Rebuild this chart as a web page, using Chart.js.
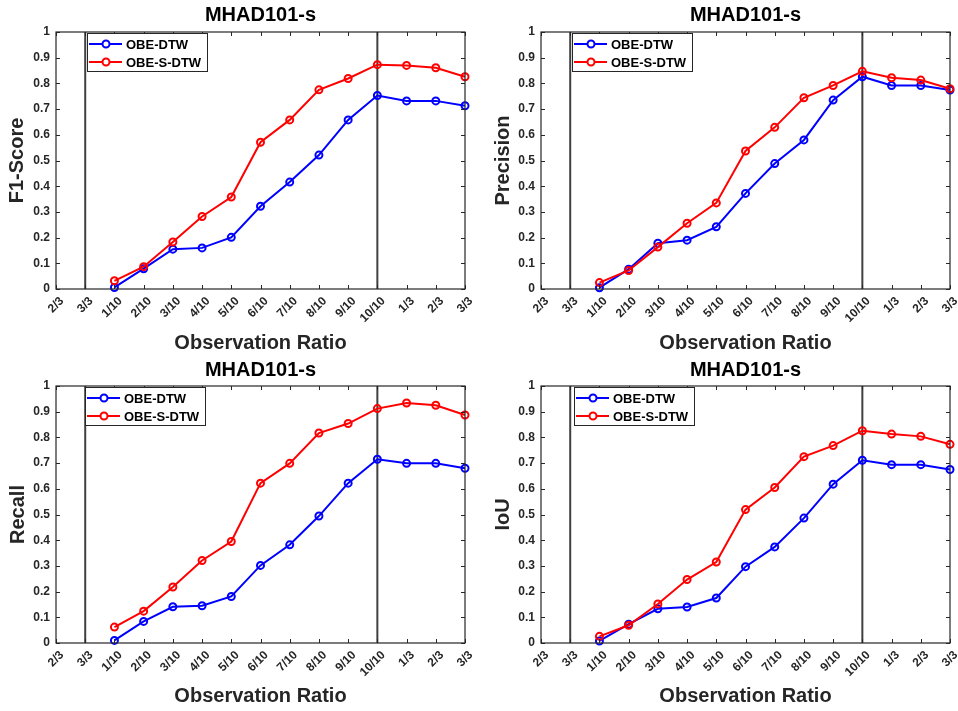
<!DOCTYPE html>
<html>
<head>
<meta charset="utf-8">
<script src="https://cdn.jsdelivr.net/npm/chart.js@4"></script>
<style>
  html, body { margin: 0; padding: 0; background: #ffffff; }
  #wrap { position: relative; width: 958px; height: 711px; background: #ffffff; }
  canvas { position: absolute; }
</style>
</head>
<body>
<div id="wrap">
  <canvas id="c1" width="479" height="355" style="left:0;top:0"></canvas>
  <canvas id="c2" width="479" height="355" style="left:479px;top:0"></canvas>
  <canvas id="c3" width="479" height="356" style="left:0;top:355px"></canvas>
  <canvas id="c4" width="479" height="356" style="left:479px;top:355px"></canvas>
</div>
<script>
// ---- data ----
const categories = ['2/3','3/3','1/10','2/10','3/10','4/10','5/10','6/10','7/10','8/10','9/10','10/10','1/3','2/3','3/3'];
const seriesNames = ['OBE-DTW', 'OBE-S-DTW'];
const chartTitle = 'MHAD101-s';
const xAxisTitle = 'Observation Ratio';
const metricNames = ['F1-Score', 'Precision', 'Recall', 'IoU'];
const refLineIndices = [1, 11]; // '3/3' and '10/10'
const yTicks = [0, 0.1, 0.2, 0.3, 0.4, 0.5, 0.6, 0.7, 0.8, 0.9, 1];

const f1Dtw    = [null, null, 0.006, 0.079, 0.155, 0.160, 0.201, 0.322, 0.416, 0.521, 0.658, 0.753, 0.732, 0.732, 0.713];
const f1SDtw   = [null, null, 0.032, 0.087, 0.183, 0.282, 0.358, 0.571, 0.658, 0.775, 0.819, 0.873, 0.870, 0.861, 0.826];
const precDtw  = [null, null, 0.005, 0.077, 0.178, 0.190, 0.242, 0.372, 0.488, 0.580, 0.735, 0.826, 0.792, 0.792, 0.774];
const precSDtw = [null, null, 0.025, 0.072, 0.163, 0.256, 0.335, 0.537, 0.629, 0.744, 0.792, 0.847, 0.822, 0.813, 0.779];
const recDtw   = [null, null, 0.010, 0.084, 0.141, 0.145, 0.181, 0.302, 0.382, 0.494, 0.622, 0.715, 0.699, 0.699, 0.680];
const recSDtw  = [null, null, 0.062, 0.124, 0.218, 0.321, 0.395, 0.622, 0.699, 0.817, 0.854, 0.912, 0.934, 0.925, 0.887];
const iouDtw   = [null, null, 0.008, 0.073, 0.133, 0.140, 0.175, 0.297, 0.374, 0.486, 0.618, 0.711, 0.694, 0.694, 0.675];
const iouSDtw  = [null, null, 0.026, 0.069, 0.152, 0.247, 0.315, 0.519, 0.605, 0.725, 0.768, 0.826, 0.813, 0.804, 0.773];

// ---- styling / layout ----
const FONT = "'Liberation Sans', Arial, Helvetica, sans-serif";
const AXIS_COLOR = '#262626';
const colors = ['#0000ff', '#ff0000'];

const panels = [
  { id: 'c1', metric: metricNames[0], dtw: f1Dtw,   sdtw: f1SDtw,   L: 56, R: 465, T: 32, B: 289, yTitleX: 17, xTitleY: 343, legendDX: 31 },
  { id: 'c2', metric: metricNames[1], dtw: precDtw, sdtw: precSDtw, L: 62, R: 471, T: 32, B: 289, yTitleX: 24, xTitleY: 343, legendDX: 31 },
  { id: 'c3', metric: metricNames[2], dtw: recDtw,  sdtw: recSDtw,  L: 56, R: 465, T: 31, B: 288, yTitleX: 18, xTitleY: 341, legendDX: 29 },
  { id: 'c4', metric: metricNames[3], dtw: iouDtw,  sdtw: iouSDtw,  L: 62, R: 471, T: 31, B: 288, yTitleX: 24, xTitleY: 341, legendDX: 33 }
];

const matlabPlugin = {
  id: 'matlabAxes',
  beforeDatasetsDraw(chart, args, opts) {
    const { ctx, chartArea: a } = chart;
    const x = chart.scales.x;
    ctx.save();
    ctx.strokeStyle = '#404040';
    ctx.lineWidth = 2;
    opts.refLines.forEach(i => {
      const px = x.getPixelForValue(i);
      ctx.beginPath();
      ctx.moveTo(px, a.top);
      ctx.lineTo(px, a.bottom);
      ctx.stroke();
    });
    ctx.restore();
  },
  afterDraw(chart, args, opts) {
    const { ctx, chartArea: a } = chart;
    const x = chart.scales.x, y = chart.scales.y;
    ctx.save();
    // box
    ctx.strokeStyle = AXIS_COLOR;
    ctx.lineWidth = 1.2;
    ctx.strokeRect(a.left, a.top, a.right - a.left, a.bottom - a.top);
    // inward ticks
    const tl = 4;
    ctx.lineWidth = 1;
    ctx.beginPath();
    x.ticks.forEach(t => {
      const px = Math.round(x.getPixelForValue(t.value)) + 0.5;
      ctx.moveTo(px, a.bottom); ctx.lineTo(px, a.bottom - tl);
      ctx.moveTo(px, a.top); ctx.lineTo(px, a.top + tl);
    });
    y.ticks.forEach(t => {
      const py = Math.round(y.getPixelForValue(t.value)) + 0.5;
      ctx.moveTo(a.left, py); ctx.lineTo(a.left + tl, py);
      ctx.moveTo(a.right, py); ctx.lineTo(a.right - tl, py);
    });
    ctx.stroke();

    // title
    ctx.fillStyle = '#000000';
    ctx.font = 'bold 20px ' + FONT;
    ctx.textAlign = 'center';
    ctx.textBaseline = 'middle';
    ctx.fillText(opts.title, (a.left + a.right) / 2, opts.titleY);

    // legend
    const bx = a.left + opts.legendDX, by = a.top + 1, bw = 120, bh = 38;
    ctx.fillStyle = '#ffffff';
    ctx.fillRect(bx, by, bw, bh);
    ctx.strokeStyle = AXIS_COLOR;
    ctx.lineWidth = 1;
    ctx.strokeRect(bx + 0.5, by + 0.5, bw, bh);
    ctx.font = 'bold 13px ' + FONT;
    ctx.textAlign = 'left';
    ctx.textBaseline = 'middle';
    chart.data.datasets.forEach((ds, i) => {
      const ry = by + 11 + i * 18;
      ctx.strokeStyle = ds.borderColor;
      ctx.lineWidth = 2;
      ctx.beginPath();
      ctx.moveTo(bx + 2, ry); ctx.lineTo(bx + 35, ry);
      ctx.stroke();
      ctx.beginPath();
      ctx.arc(bx + 19, ry, 3.5, 0, Math.PI * 2);
      ctx.fillStyle = '#ffffff';
      ctx.fill();
      ctx.stroke();
      ctx.fillStyle = '#000000';
      ctx.fillText(ds.label, bx + 39, ry + 1);
    });
    ctx.restore();
  }
};

panels.forEach(p => {
  const canvas = document.getElementById(p.id);
  const W = canvas.width, H = canvas.height;
  const padLeft = p.yTitleX - 12;
  const yWidth = p.L - padLeft;
  const xHeight = p.xTitleY - p.B + 12;
  const padBottom = H - p.B - xHeight;
  new Chart(canvas, {
    type: 'line',
    data: {
      labels: categories,
      datasets: [
        { label: seriesNames[0], data: p.dtw, borderColor: colors[0], backgroundColor: 'rgba(0,0,0,0)',
          borderWidth: 2, pointRadius: 3.5, pointBorderWidth: 2, pointBackgroundColor: 'rgba(0,0,0,0)',
          pointBorderColor: colors[0], pointHoverRadius: 3.5, tension: 0, spanGaps: false, clip: false, order: 1 },
        { label: seriesNames[1], data: p.sdtw, borderColor: colors[1], backgroundColor: 'rgba(0,0,0,0)',
          borderWidth: 2, pointRadius: 3.5, pointBorderWidth: 2, pointBackgroundColor: 'rgba(0,0,0,0)',
          pointBorderColor: colors[1], pointHoverRadius: 3.5, tension: 0, spanGaps: false, clip: false, order: 0 }
      ]
    },
    options: {
      responsive: false,
      animation: false,
      devicePixelRatio: 1,
      events: [],
      layout: { padding: { left: padLeft, right: W - p.R, top: p.T, bottom: padBottom } },
      plugins: {
        legend: { display: false },
        tooltip: { enabled: false },
        title: { display: false },
        matlabAxes: { refLines: refLineIndices, title: chartTitle, titleY: 15.7, legendDX: p.legendDX }
      },
      scales: {
        x: {
          type: 'category',
          offset: false,
          grid: { display: false, drawTicks: false },
          border: { display: false },
          ticks: {
            autoSkip: false, minRotation: 45, maxRotation: 45, padding: 5, labelOffset: 6,
            color: AXIS_COLOR, font: { family: FONT, size: 12, weight: 'bold' }
          },
          title: { display: true, text: xAxisTitle, color: AXIS_COLOR, padding: 0,
                   font: { family: FONT, size: 20, weight: 'bold', lineHeight: 1.2 } },
          afterFit(scale) { scale.height = xHeight; scale.paddingLeft = 0; scale.paddingRight = 0; }
        },
        y: {
          min: 0, max: 1,
          grid: { display: false, drawTicks: false },
          border: { display: false },
          afterBuildTicks(scale) { scale.ticks = yTicks.map(v => ({ value: v })); },
          ticks: {
            padding: 6, color: AXIS_COLOR, font: { family: FONT, size: 12, weight: 'bold' },
            callback: v => String(Math.round(v * 10) / 10)
          },
          title: { display: true, text: p.metric, color: AXIS_COLOR, padding: 0,
                   font: { family: FONT, size: 20, weight: 'bold', lineHeight: 1.2 } },
          afterFit(scale) { scale.width = yWidth; scale.paddingTop = 0; scale.paddingBottom = 0; }
        }
      }
    },
    plugins: [matlabPlugin]
  });
});
</script>
</body>
</html>
